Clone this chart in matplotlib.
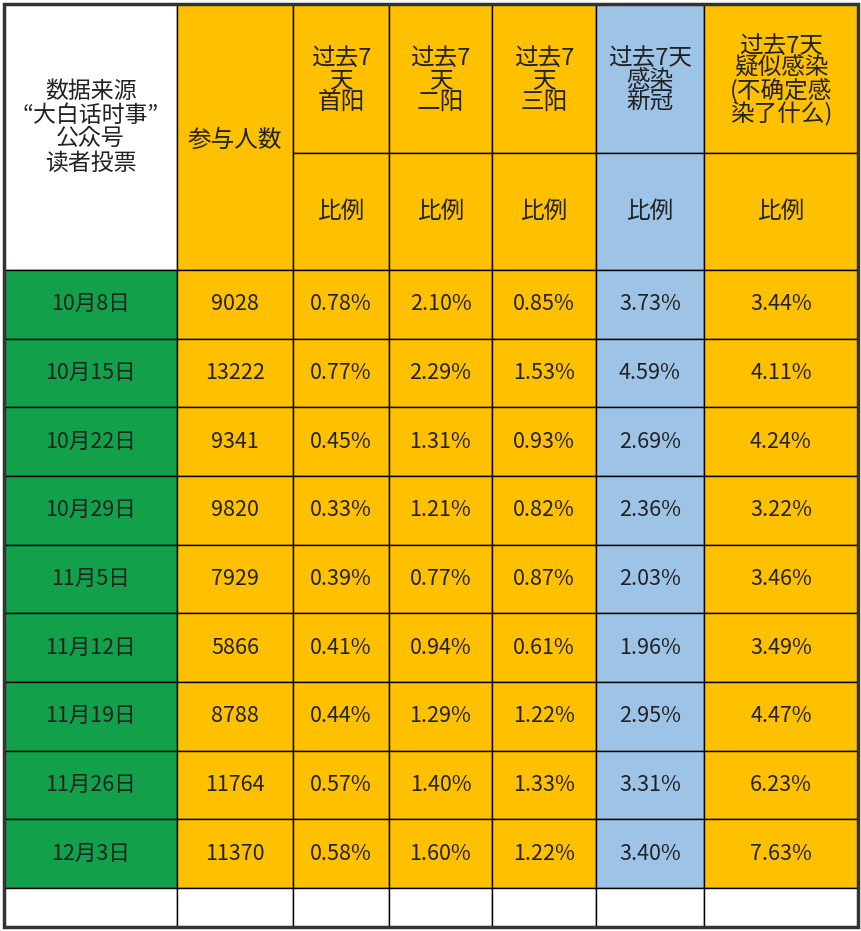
import matplotlib
matplotlib.use("Agg")
import matplotlib.pyplot as plt
from matplotlib.patches import Rectangle

plt.rcParams["font.family"] = ["Noto Sans CJK SC", "Noto Sans CJK JP", "Noto Sans CJK TC", "DejaVu Sans"]

dates = ["10月8日","10月15日","10月22日","10月29日","11月5日","11月12日","11月19日","11月26日","12月3日"]
participants = ["9028","13222","9341","9820","7929","5866","8788","11764","11370"]
first_pos = ["0.78%","0.77%","0.45%","0.33%","0.39%","0.41%","0.44%","0.57%","0.58%"]
second_pos = ["2.10%","2.29%","1.31%","1.21%","0.77%","0.94%","1.29%","1.40%","1.60%"]
third_pos = ["0.85%","1.53%","0.93%","0.82%","0.87%","0.61%","1.22%","1.33%","1.22%"]
infected = ["3.73%","4.59%","2.69%","2.36%","2.03%","1.96%","2.95%","3.31%","3.40%"]
suspected = ["3.44%","4.11%","4.24%","3.22%","3.46%","3.49%","4.47%","6.23%","7.63%"]
headers = ["数据来源\n“大白话时事”\n公众号\n读者投票", "参与人数", "过去7\n天\n首阳", "过去7\n天\n二阳",
           "过去7\n天\n三阳", "过去7天\n感染\n新冠", "过去7天\n疑似感染\n(不确定感\n染了什么)"]
sub = "比例"

col_edges = [4, 177, 293, 389, 492, 596, 704, 858]
y_top, y_mid, y_head = 4, 153, 270
y_data_end, y_end = 888, 927
GREEN, ORANGE, BLUE, WHITE = "#12a04a", "#ffc000", "#9dc3e6", "#ffffff"
col_colors = [GREEN, ORANGE, ORANGE, ORANGE, ORANGE, BLUE, ORANGE]

fig = plt.figure(figsize=(8.62, 9.31), dpi=100)
ax = fig.add_axes([0, 0, 1, 1])
ax.set_xlim(0, 862); ax.set_ylim(931, 0); ax.axis("off")

def cell(x0, x1, y0, y1, fc, text=None, fs=17, ls=1.0, dy=0):
    ax.add_patch(Rectangle((x0, y0), x1 - x0, y1 - y0, facecolor=fc, edgecolor="black", lw=1.0))
    if text:
        ax.text((x0 + x1) / 2, (y0 + y1) / 2 + dy, text, ha="center", va="center", fontsize=fs,
                color="#222222", linespacing=ls)

cols = [dates, participants, first_pos, second_pos, third_pos, infected, suspected]
n = len(dates)
rh = (y_data_end - y_head) / n
cell(col_edges[0], col_edges[1], y_top, y_head, WHITE, headers[0], 16.5, 1.05, dy=-10)
cell(col_edges[1], col_edges[2], y_top, y_head, ORANGE, headers[1], 17, dy=3)
for j in range(2, 7):
    cell(col_edges[j], col_edges[j+1], y_top, y_mid, col_colors[j], headers[j], 17, 0.95, dy=2)
    cell(col_edges[j], col_edges[j+1], y_mid, y_head, col_colors[j], sub, 17)
for i in range(n):
    for j in range(7):
        cell(col_edges[j], col_edges[j+1], y_head + i*rh, y_head + (i+1)*rh, col_colors[j], cols[j][i], 15.5)
for j in range(7):
    cell(col_edges[j], col_edges[j+1], y_data_end, y_end, WHITE)
ax.add_patch(Rectangle((col_edges[0], y_top), col_edges[-1]-col_edges[0], y_end-y_top,
                       fill=False, edgecolor="#333333", lw=2.5))
fig.savefig("out.png", dpi=100)
